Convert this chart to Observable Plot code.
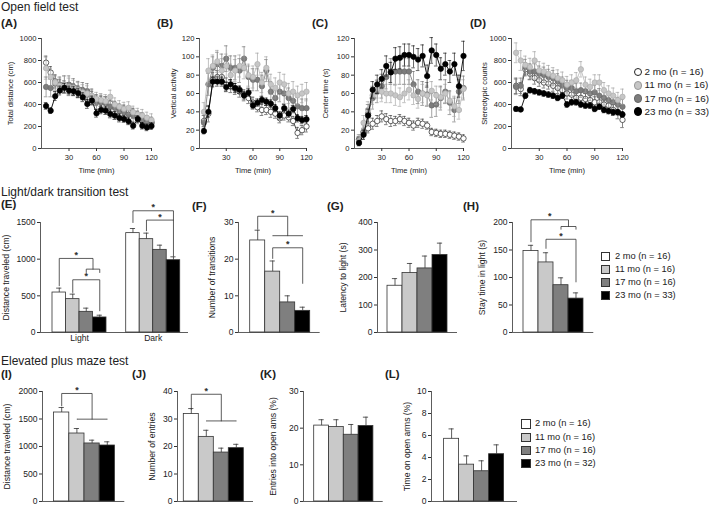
<!DOCTYPE html>
<html><head><meta charset="utf-8">
<script src="https://cdn.jsdelivr.net/npm/d3@7"></script>
<script src="https://cdn.jsdelivr.net/npm/@observablehq/plot@0.6"></script>
<style>
body{margin:0;background:#fff;}
#fig{position:relative;width:709px;height:507px;font-family:"Liberation Sans",Arial,Helvetica,sans-serif;color:#222;overflow:hidden;background:#fff;}
.abs{position:absolute;white-space:nowrap;line-height:1;}
.sec{font-size:12px;}
.lab{font-size:11.5px;font-weight:bold;}
</style></head><body><div id="fig"></div>
<script>
// ---------- data ----------
const groups = ["2 mo", "11 mo", "17 mo", "23 mo"];
const times = [5,10,15,20,25,30,35,40,45,50,55,60,65,70,75,80,85,90,95,100,105,110,115,120];
const timeTicks = [30, 60, 90, 120];

// (A) Total distance (cm)
const A_2mo  = [780,690,610,570,560,550,540,520,500,490,470,440,430,420,410,380,360,350,330,320,300,280,260,240];
const A_11mo = [730,650,600,570,580,560,550,530,510,500,480,450,440,430,470,400,380,360,370,330,310,300,280,260];
const A_17mo = [560,550,590,580,580,580,560,540,530,520,470,420,420,410,380,370,340,330,310,300,280,260,240,230];
const A_23mo = [387,344,476,527,552,527,521,503,466,405,436,320,351,344,314,299,277,268,247,207,268,207,192,204];
const A_2mo_e  = [60,55,60,55,55,50,50,50,55,50,50,50,45,50,45,45,45,45,45,45,40,45,40,45];
const A_11mo_e = [100,80,70,70,80,80,70,70,70,70,60,60,60,60,60,60,55,60,55,55,55,55,50,55];
const A_17mo_e = [90,80,70,70,80,80,75,70,70,70,70,60,65,60,60,60,60,55,60,55,55,55,50,50];
const A_23mo_e = [30,25,40,40,40,40,40,40,40,40,40,35,35,35,35,35,35,30,30,30,30,30,30,30];

// (B) Vertical activity
const B_2mo  = [30,38,75,78,78,70,68,65,62,58,55,50,45,42,42,40,38,33,36,34,30,17,20,24];
const B_11mo = [40,85,90,95,85,90,80,85,90,88,80,78,92,72,88,70,66,72,70,60,62,58,60,62];
const B_17mo = [28,70,88,92,90,98,88,88,85,98,78,75,75,68,85,62,55,62,60,55,52,46,44,44];
const B_23mo = [19,40,73,73,73,67,70,66,64,58,61,47,50,53,51,49,44,36,44,38,43,33,31,32];
const B_2mo_e  = [6,9,8,7,8,7,7,6,6,6,6,6,5,6,5,6,5,5,5,5,5,6,5,6];
const B_11mo_e = [10,13,12,12,13,13,12,12,12,12,12,12,12,11,12,11,11,11,11,11,11,10,10,10];
const B_17mo_e = [10,12,12,13,13,14,13,13,13,13,12,12,12,12,12,11,11,11,11,11,10,10,10,10];
const B_23mo_e = [3,6,5,5,5,5,5,5,4,4,4,4,4,4,4,4,4,4,4,4,4,4,4,4];

// (C) Center time (s)
const C_2mo  = [10,18,22,27,30,35,32,30,30,32,30,28,25,28,27,25,18,17,16,16,15,14,13,11];
const C_11mo = [8,28,42,58,65,62,60,60,58,56,60,64,58,54,60,58,63,58,56,60,52,46,42,65];
const C_17mo = [10,18,38,55,62,68,78,84,84,84,84,84,70,62,60,59,47,48,55,62,50,42,62,66];
const C_23mo = [6,15,36,64,70,76,90,83,98,99,102,102,100,97,101,79,107,102,87,92,84,92,68,101];
const C_2mo_e  = [3,4,5,6,6,6,6,6,5,5,5,5,5,5,5,4,4,4,4,4,4,4,4,4];
const C_11mo_e = [5,8,9,10,10,11,10,10,11,10,10,11,10,10,10,11,10,10,11,10,10,11,10,10];
const C_17mo_e = [5,8,10,12,12,13,13,14,14,14,14,14,14,13,13,13,13,13,13,13,13,13,13,13];
const C_23mo_e = [3,5,7,9,10,10,11,11,12,12,12,12,12,12,12,12,14,12,12,12,12,12,12,16];

// (D) Stereotypic counts
const D_2mo  = [570,540,720,680,640,620,600,590,570,550,530,500,490,460,460,450,440,420,420,400,390,350,330,260];
const D_11mo = [870,800,760,740,800,710,700,680,660,640,620,580,600,620,720,580,560,600,600,530,500,480,440,470];
const D_17mo = [560,570,740,700,700,680,670,650,640,610,580,550,550,520,530,520,500,510,480,460,440,420,400,380];
const D_23mo = [360,355,480,530,520,510,500,490,480,460,480,400,420,420,400,390,390,360,380,350,340,330,330,310];
const D_2mo_e  = [70,60,60,55,55,55,50,50,50,50,50,50,50,50,50,50,50,50,50,50,50,50,60,70];
const D_11mo_e = [90,90,80,80,80,80,75,75,75,75,75,75,70,70,70,70,70,70,70,70,70,70,70,70];
const D_17mo_e = [70,70,70,70,70,70,70,70,70,70,70,70,70,70,65,65,65,65,65,65,65,65,65,65];
const D_23mo_e = [20,20,25,25,25,25,25,25,25,25,25,25,25,25,25,25,25,25,25,25,25,25,25,25];

// Light/dark transition test
const E_conditions = ["Light", "Dark"];
const E_light = [545, 455, 282, 205];
const E_light_e = [60, 68, 50, 31];
const E_dark = [1355, 1273, 1127, 986];
const E_dark_e = [63, 82, 64, 46];
const F_vals = [25.1, 16.6, 8.2, 5.9];
const F_err = [2.8, 2.9, 1.8, 1.0];
const G_vals = [170, 216, 233, 282];
const G_err = [26, 35, 45, 43];
const H_vals = [148, 127.4, 86, 61.6];
const H_err = [10.5, 17.6, 13.4, 10.4];

// Elevated plus maze test
const I_vals = [1618, 1236, 1055, 1018];
const I_err = [91, 91, 60, 67];
const J_vals = [31.8, 23.5, 17.8, 19.4];
const J_err = [2.0, 2.4, 1.6, 1.4];
const K_vals = [20.7, 20.3, 18.2, 20.6];
const K_err = [1.6, 2.0, 2.8, 2.4];
const L_vals = [5.7, 3.35, 2.75, 4.3];
const L_err = [0.9, 0.8, 0.95, 0.85];

// significance brackets: bar indices (within group) and y levels (data units)
const E_sig = [
  {g: 0, x1: 0, x2: 2.5, y: 1010, b1: 637, b2: 864, star: true},
  {g: 0, x1: 2, x2: 3, y: 864, b1: 818, b2: 818, star: false},
  {g: 0, x1: 1, x2: 3, y: 719, b1: 546, b2: 296, star: true},
  {g: 1, x1: 0, x2: 3, y: 1660, b1: 1500, b2: 1533, star: true},
  {g: 1, x1: 1, x2: 3, y: 1533, b1: 1387, b2: 1046, star: true}
];
const F_sig = [
  {x1: 0, x2: 2, y: 31.7, b1: 28.2, b2: 26.4, star: true},
  {x1: 1, x2: 3, y: 26.4, b1: 26.4, b2: 26.4, star: false},
  {x1: 1, x2: 3, y: 23.1, b1: 20.2, b2: 13.4, star: true}
];
const H_sig = [
  {x1: 0, x2: 2.5, y: 204.9, b1: 165, b2: 192.7, star: true},
  {x1: 2, x2: 3, y: 192.7, b1: 187.8, b2: 187.8, star: false},
  {x1: 1, x2: 3, y: 169.5, b1: 153, b2: 92, star: true}
];
const I_sig = [
  {x1: 0, x2: 2, y: 1964, b1: 1739, b2: 1497, star: true},
  {x1: 1, x2: 3, y: 1497, b1: 1497, b2: 1497, star: false}
];
const J_sig = [
  {x1: 0, x2: 2, y: 39, b1: 33.5, b2: 29.3, star: true},
  {x1: 1, x2: 3, y: 29.3, b1: 29.3, b2: 29.3, star: false}
];

const legendCircles = ["2 mo (n = 16)", "11 mo (n = 16)", "17 mo (n = 16)", "23 mo (n = 33)"];
const legendLD = ["2 mo (n = 16)", "11 mo (n = 16)", "17 mo (n = 16)", "23 mo (n = 33)"];
const legendEPM = ["2 mo (n = 16)", "11 mo (n = 16)", "17 mo (n = 16)", "23 mo (n = 32)"];

// ---------- styles ----------
const FONT = "'Liberation Sans', Arial, Helvetica, sans-serif";
const barFills = ["#ffffff", "#c9c9c9", "#7f7f7f", "#000000"];
const dotFills = ["#ffffff", "#c6c6c6", "#7d7d7d", "#000000"];
const dotStrokes = ["#222", "#adadad", "#6a6a6a", "#000"];
const lineStrokes = ["#333", "#bdbdbd", "#808080", "#000"];
const errStrokes = ["#333", "#9a9a9a", "#666", "#000"];
const drawOrder = [0, 2, 1, 3];
const AX = "#333";
const fmt = d3.format("d");

const fig = document.getElementById("fig");
function place(svg, left, top) {
  svg.style.position = "absolute";
  svg.style.left = left + "px";
  svg.style.top = top + "px";
  fig.appendChild(svg);
}
function addText(txt, x, yc, cls, fs) {
  const d = document.createElement("div");
  d.className = "abs " + cls;
  d.textContent = txt;
  d.style.left = x + "px";
  d.style.fontSize = fs + "px";
  d.style.top = (yc - fs * 0.5) + "px";
  fig.appendChild(d);
}
const styleFor = fs => ({fontFamily: FONT, fontSize: fs + "px", color: "#222", background: "transparent", overflow: "visible", maxWidth: "none"});

function linePanel(p) {
  const ML = 45, MR = 8, MT = 8, MB = 30;
  const w = p.fx1 - p.fx0, h = p.fy1 - p.fy0;
  const marks = [
    Plot.ruleX([0], {stroke: AX, strokeWidth: 0.8}),
    Plot.ruleY([0], {stroke: AX, strokeWidth: 0.8}),
    Plot.axisY({ticks: p.yticks, tickFormat: fmt, tickSize: 3, tickPadding: 2, stroke: AX, label: p.ylabel, labelAnchor: "center", labelArrow: "none", labelOffset: p.ylo}),
    Plot.axisX({ticks: timeTicks, tickFormat: fmt, tickSize: 3, tickPadding: 3, stroke: AX, label: "Time (min)", labelAnchor: "center", labelArrow: "none", labelOffset: 24})
  ];
  for (const s of drawOrder) {
    const d = times.map((t, i) => ({t, v: p.series[s][i], e: p.errors[s][i]}));
    const es = {stroke: errStrokes[s], strokeWidth: 0.6};
    marks.push(
      Plot.ruleX(d, {x: "t", y1: r => r.v - r.e, y2: r => r.v + r.e, ...es}),
      Plot.ruleY(d, {y: r => r.v + r.e, x1: "t", x2: "t", insetLeft: -1.8, insetRight: -1.8, ...es}),
      Plot.ruleY(d, {y: r => r.v - r.e, x1: "t", x2: "t", insetLeft: -1.8, insetRight: -1.8, ...es}),
      Plot.line(d, {x: "t", y: "v", stroke: lineStrokes[s], strokeWidth: 0.9}),
      Plot.dot(d, {x: "t", y: "v", r: 2.7, fill: dotFills[s], stroke: dotStrokes[s], strokeWidth: 0.7})
    );
  }
  const svg = Plot.plot({
    width: ML + w + MR, height: MT + h + MB,
    marginLeft: ML, marginRight: MR, marginTop: MT, marginBottom: MB,
    x: {domain: [0, 120]}, y: {domain: [0, p.ymax]},
    style: styleFor(7.6), marks
  });
  place(svg, p.fx0 - ML, p.fy0 - MT);
}

function barPanel(p) {
  const ML = 48, MR = 8, MT = 24, MB = 18;
  const w = p.fx1 - p.fx0, h = p.fy1 - p.fy0;
  const xl = -0.5 - (p.bar0 - p.fx0) / p.bw;
  const xr = -0.5 + (p.fx1 - p.bar0) / p.bw;
  const offs = p.offsets || [0];
  const rows = [];
  p.sets.forEach((set, gi) => set.values.forEach((v, i) => rows.push({x: offs[gi] + i, v, e: set.errors[i], g: groups[i]})));
  const sig = p.sig || [];
  const bpts = [];
  sig.forEach((s, k) => {
    const o = offs[s.g || 0];
    bpts.push({id: k, x: o + s.x1, y: s.b1}, {id: k, x: o + s.x1, y: s.y}, {id: k, x: o + s.x2, y: s.y}, {id: k, x: o + s.x2, y: s.b2});
  });
  const stars = sig.filter(s => s.star).map(s => ({x: offs[s.g || 0] + (s.x1 + s.x2) / 2, y: s.y}));
  const marks = [
    Plot.rectY(rows, {x1: r => r.x - 0.5, x2: r => r.x + 0.5, y1: () => 0, y2: "v", fill: "g", stroke: AX, strokeWidth: 0.8}),
    Plot.ruleX(rows, {x: "x", y1: "v", y2: r => r.v + r.e, stroke: AX, strokeWidth: 0.8}),
    Plot.ruleY(rows, {y: r => r.v + r.e, x1: "x", x2: "x", insetLeft: -2.6, insetRight: -2.6, stroke: AX, strokeWidth: 0.8}),
    Plot.line(bpts, {x: "x", y: "y", z: "id", stroke: AX, strokeWidth: 0.8}),
    Plot.text(stars, {x: "x", y: "y", text: () => "*", dy: -3.2, fontSize: 9, fill: "#222", stroke: "#222", strokeWidth: 0.25}),
    Plot.ruleX([xl], {stroke: AX, strokeWidth: 0.8}),
    Plot.ruleY([0], {stroke: AX, strokeWidth: 0.8}),
    Plot.axisY({ticks: p.yticks, tickFormat: fmt, tickSize: 3, tickPadding: 2, stroke: AX, label: p.ylabel, labelAnchor: "center", labelArrow: "none", labelOffset: p.ylo})
  ];
  if (p.xlabels) {
    marks.push(Plot.axisX({ticks: offs.map(o => o + 1.5), tickFormat: (t, i) => p.xlabels[i], tickSize: 0, tickPadding: 2, label: null}));
  }
  const svg = Plot.plot({
    width: ML + w + MR, height: MT + h + MB,
    marginLeft: ML, marginRight: MR, marginTop: MT, marginBottom: MB,
    x: {domain: [xl, xr], axis: p.xlabels ? undefined : null},
    y: {domain: [0, p.ymax]},
    color: {domain: groups, range: barFills},
    style: styleFor(8.6), marks
  });
  place(svg, p.fx0 - ML, p.fy0 - MT);
}

// ---------- row 1: open field ----------
const r1 = {fy0: 38, fy1: 148};
linePanel({...r1, fx0: 41, fx1: 151, ymax: 1000, yticks: [0,200,400,600,800,1000], ylabel: "Total distance (cm)", ylo: 33.5,
  series: [A_2mo, A_11mo, A_17mo, A_23mo], errors: [A_2mo_e, A_11mo_e, A_17mo_e, A_23mo_e]});
linePanel({...r1, fx0: 199, fx1: 306, ymax: 120, yticks: [0,20,40,60,80,100,120], ylabel: "Vertical activity", ylo: 28.5,
  series: [B_2mo, B_11mo, B_17mo, B_23mo], errors: [B_2mo_e, B_11mo_e, B_17mo_e, B_23mo_e]});
linePanel({...r1, fx0: 354, fx1: 463, ymax: 120, yticks: [0,20,40,60,80,100,120], ylabel: "Center time (s)", ylo: 31.5,
  series: [C_2mo, C_11mo, C_17mo, C_23mo], errors: [C_2mo_e, C_11mo_e, C_17mo_e, C_23mo_e]});
linePanel({...r1, fx0: 511, fx1: 622, ymax: 1000, yticks: [0,200,400,600,800,1000], ylabel: "Stereotypic counts", ylo: 29.5,
  series: [D_2mo, D_11mo, D_17mo, D_23mo], errors: [D_2mo_e, D_11mo_e, D_17mo_e, D_23mo_e]});

// ---------- row 2: light/dark ----------
const r2 = {fy0: 221.7, fy1: 331.7};
barPanel({...r2, fx0: 40, fx1: 188, bar0: 52, bw: 13.5, offsets: [0, 5.46], xlabels: E_conditions,
  ymax: 1500, yticks: [0,500,1000,1500], ylabel: "Distance traveled (cm)", ylo: 37.5,
  sets: [{values: E_light, errors: E_light_e}, {values: E_dark, errors: E_dark_e}], sig: E_sig});
barPanel({...r2, fx0: 238.3, fx1: 320, bar0: 250, bw: 15, ymax: 30, yticks: [0,10,20,30], ylabel: "Number of transitions", ylo: 29.5,
  sets: [{values: F_vals, errors: F_err}], sig: F_sig});
barPanel({...r2, fx0: 376.7, fx1: 456.7, bar0: 386.7, bw: 15, ymax: 400, yticks: [0,100,200,300,400], ylabel: "Latency to light (s)", ylo: 37.5,
  sets: [{values: G_vals, errors: G_err}]});
barPanel({...r2, fx0: 511.7, fx1: 593, bar0: 522.7, bw: 15, ymax: 200, yticks: [0,50,100,150,200], ylabel: "Stay time in light (s)", ylo: 33.2,
  sets: [{values: H_vals, errors: H_err}], sig: H_sig});

// ---------- row 3: elevated plus maze ----------
const r3 = {fy0: 390.7, fy1: 500.7};
barPanel({...r3, fx0: 41.7, fx1: 124, bar0: 53.3, bw: 15.2, ymax: 2000, yticks: [0,500,1000,1500,2000], ylabel: "Distance traveled (cm)", ylo: 38.2,
  sets: [{values: I_vals, errors: I_err}], sig: I_sig});
barPanel({...r3, fx0: 177, fx1: 253, bar0: 183.3, bw: 15, ymax: 40, yticks: [0,10,20,30,40], ylabel: "Number of entries", ylo: 28.5,
  sets: [{values: J_vals, errors: J_err}], sig: J_sig});
barPanel({...r3, fx0: 303.3, fx1: 383, bar0: 314, bw: 14.8, ymax: 30, yticks: [0,10,20,30], ylabel: "Entries into open ams (%)", ylo: 33.2,
  sets: [{values: K_vals, errors: K_err}]});
barPanel({...r3, fx0: 430.7, fx1: 516.7, bar0: 443.3, bw: 15, ymax: 10, yticks: [0,2,4,6,8,10], ylabel: "Time on open arms (%)", ylo: 27.2,
  sets: [{values: L_vals, errors: L_err}]});

// ---------- titles & panel letters ----------
addText("Open field test", 1, 7, "sec", 12);
addText("Light/dark transition test", 1, 191.7, "sec", 12);
addText("Elevated plus maze test", 1, 361, "sec", 12);
[["(A)", 1, 24], ["(B)", 157, 24], ["(C)", 312, 24], ["(D)", 470, 24],
 ["(E)", 1, 205], ["(F)", 192, 207], ["(G)", 327, 207], ["(H)", 463, 207],
 ["(I)", 1, 375], ["(J)", 132, 375], ["(K)", 260, 375], ["(L)", 385, 375]]
 .forEach(([t, x, y]) => addText(t, x, y, "lab", 11.5));

// ---------- legends ----------
function legend(labels, cx, ys, tx, size, round, fills, strokes, fs) {
  labels.forEach((lab, i) => {
    const sw = document.createElement("div");
    sw.style.cssText = `position:absolute;left:${cx - size / 2}px;top:${ys[i] - size / 2}px;width:${size}px;height:${size}px;box-sizing:border-box;border:0.8px solid ${strokes[i]};background:${fills[i]};border-radius:${round ? "50%" : "0"}`;
    fig.appendChild(sw);
    addText(lab, tx, ys[i], "leg", fs);
  });
}
legend(legendCircles, 638, [72, 85.3, 98.5, 111.8], 644.5, 8.8, true, dotFills, ["#222", "#999", "#666", "#000"], 9.9);
legend(legendLD, 605.3, [256.7, 269.5, 282.5, 295.5], 615, 9.3, false, barFills, ["#333", "#333", "#333", "#333"], 9.3);
legend(legendEPM, 526, [424, 437.3, 450.3, 463.3], 535, 9.6, false, barFills, ["#333", "#333", "#333", "#333"], 9.3);
</script></body></html>
